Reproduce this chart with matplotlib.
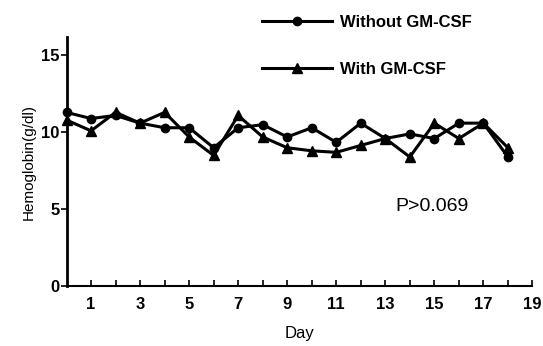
import matplotlib.pyplot as plt

# values
days = list(range(19))
without_gmcsf = [11.3, 10.9, 11.1, 10.6, 10.3, 10.3, 9.0, 10.3, 10.5, 9.7,
                 10.3, 9.35, 10.6, 9.6, 9.9, 9.6, 10.6, 10.6, 8.4]
with_gmcsf = [10.8, 10.1, 11.3, 10.6, 11.3, 9.7, 8.5, 11.1, 9.7, 9.0,
              8.8, 8.7, 9.15, 9.6, 8.4, 10.6, 9.6, 10.6, 9.0]
x_ticks = list(range(1, 20))
x_labels = [str(d) if d % 2 == 1 else '' for d in x_ticks]
y_ticks = [0, 5, 10, 15]

plt.rcParams['font.family'] = ['Liberation Sans', 'DejaVu Sans']
plt.rcParams['font.weight'] = 'bold'

fig = plt.figure(figsize=(5.43, 3.46), dpi=100)
ax = fig.add_axes([0.1225, 0.173, 0.858, 0.72])

ax.plot(days, without_gmcsf, color='black', lw=2.2, marker='o', ms=6,
        label='Without GM-CSF', clip_on=False)
ax.plot(days, with_gmcsf, color='black', lw=2.2, marker='^', ms=7,
        label='With GM-CSF', clip_on=False)

ax.set_xlim(0, 19)
ax.set_ylim(0, 16.2)
ax.spines['top'].set_visible(False)
ax.spines['right'].set_visible(False)
ax.spines['left'].set_linewidth(2)
ax.spines['bottom'].set_linewidth(1.5)

ax.set_xticks(x_ticks)
ax.set_xticklabels(x_labels, fontsize=12)
ax.tick_params(axis='x', direction='in', length=4, width=1.2, pad=8)
ax.set_yticks(y_ticks)
ax.tick_params(axis='y', direction='out', length=4, width=1.2, labelsize=12, pad=1)

ax.set_xlabel('Day', fontsize=12, labelpad=10)
ax.set_ylabel('Hemoglobin(g/dl)', fontsize=11, labelpad=4)

ax.text(13.4, 4.9, 'P>0.069', fontsize=14, fontweight='normal')

fig.legend(loc='upper left', bbox_to_anchor=(0.455, 1.0), frameon=False,
           fontsize=12, labelspacing=1.9, handlelength=4.2, handletextpad=0.5)

fig.savefig('out.png', dpi=100)
